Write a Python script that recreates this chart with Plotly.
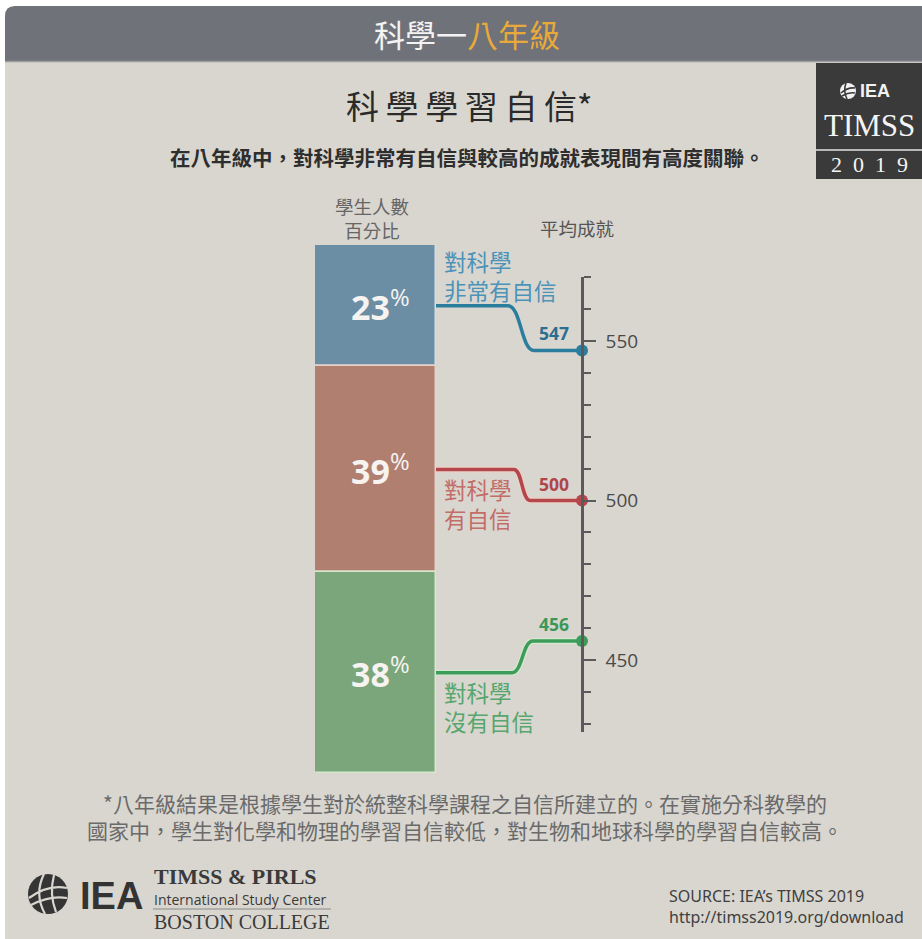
import plotly.graph_objects as go

W, H = 922, 939

# ---------------- data ----------------
categories = ["對科學非常有自信", "對科學有自信", "對科學沒有自信"]
label_lines = [["對科學", "非常有自信"], ["對科學", "有自信"], ["對科學", "沒有自信"]]
percent = [23, 39, 38]
score = [547, 500, 456]
score_ticks = [450, 500, 550]
score_tick_labels = ["450", "500", "550"]
minor_ticks = [430, 440, 460, 470, 480, 490, 510, 520, 530, 540, 560, 570]

# ---------------- styles ----------------
bar_colors = ["#6b8ea5", "#b07f70", "#7ba67b"]
bar_edge = ["#cfe0ea", "#ecd0c6", "#d3e8cd"]
line_colors = ["#2a7d9c", "#b4474c", "#3e9c5b"]
label_colors = ["#4b93b8", "#c26d68", "#56a66d"]
num_colors = ["#2b6e8e", "#b0454a", "#3c9857"]
BG = "#d9d6d0"
CJK = "Noto Sans CJK TC"

# layout geometry (pixels)
BAR_X0, BAR_X1 = 315, 436
BAR_TOP, BAR_BOT = 245, 773
AX_X = 582
AX_TOP, AX_BOT = 277, 732
SC_MIN, SC_MAX = 427.5, 570
bend_start = [508, 514, 512]
bend_end = [534, 530, 533]
label_dy = [-30, 34, 34]


def X(px):
    return px / W


def Y(py):
    return 1 - py / H


def bar_y_px(v):
    return BAR_BOT - (BAR_BOT - BAR_TOP) * v / 100.0


def score_y_px(s):
    return AX_BOT - (AX_BOT - AX_TOP) * (s - SC_MIN) / (SC_MAX - SC_MIN)


# stacked from top
bases = []
acc = 100
for p in percent:
    acc -= p
    bases.append(acc)

fig = go.Figure()

for i, (c, p, b) in enumerate(zip(categories, percent, bases)):
    fig.add_trace(go.Bar(
        x=["學生"], y=[p], base=[b], width=1, name=c,
        marker=dict(color=bar_colors[i], line=dict(color=bar_edge[i], width=1.5)),
        xaxis="x", yaxis="y", showlegend=False, hoverinfo="skip"))

fig.add_trace(go.Scatter(
    x=[0] * len(score), y=score, mode="markers", xaxis="x2", yaxis="y2",
    marker=dict(color=line_colors, size=12), cliponaxis=False,
    showlegend=False, hoverinfo="skip"))

shapes = []
# white frame + background
shapes.append(dict(type="rect", xref="paper", yref="paper", x0=0, x1=1, y0=0, y1=1,
                   fillcolor="white", line=dict(width=0), layer="below"))
shapes.append(dict(type="rect", xref="paper", yref="paper", x0=X(5), x1=1, y0=0, y1=Y(61),
                   fillcolor=BG, line=dict(width=0), layer="below"))
# banner with rounded top-left corner
r = 10
banner = (f"M {X(5)},{Y(61)} L {X(5)},{Y(6 + r)} Q {X(5)},{Y(6)} {X(5 + r)},{Y(6)} "
          f"L 1,{Y(6)} L 1,{Y(61)} Z")
shapes.append(dict(type="path", path=banner, xref="paper", yref="paper",
                   fillcolor="#6f7279", line=dict(width=0), layer="below"))
shapes.append(dict(type="line", xref="paper", yref="paper", x0=X(5), x1=1, y0=Y(61.5), y1=Y(61.5),
                   line=dict(color="#9a9ca0", width=1.5), layer="below"))

# TIMSS logo box
shapes.append(dict(type="rect", xref="paper", yref="paper", x0=X(816), x1=1, y0=Y(179), y1=Y(63),
                   fillcolor="#3b3a3a", line=dict(width=0), layer="below"))
shapes.append(dict(type="line", xref="paper", yref="paper", x0=X(816), x1=1, y0=Y(150), y1=Y(150),
                   line=dict(color="#b8b8b8", width=2), layer="below"))
# small white globe
gx, gy, gr = 848, 91, 8
shapes.append(dict(type="circle", xref="paper", yref="paper", x0=X(gx - gr), x1=X(gx + gr),
                   y0=Y(gy + gr), y1=Y(gy - gr), fillcolor="#f2f2f2", line=dict(width=0), layer="below"))
shapes.append(dict(type="path", xref="paper", yref="paper",
                   path=f"M {X(gx-7)},{Y(gy+2)} Q {X(gx)},{Y(gy-4)} {X(gx+7)},{Y(gy-3)} "
                        f"M {X(gx-6)},{Y(gy+5)} Q {X(gx+1)},{Y(gy+1)} {X(gx+7)},{Y(gy+2)} "
                        f"M {X(gx-2)},{Y(gy-8)} Q {X(gx-5)},{Y(gy)} {X(gx-1)},{Y(gy+8)}",
                   line=dict(color="#3b3a3a", width=1.6), layer="below"))

# bottom-left globe
bx, by, br = 48, 894, 20
shapes.append(dict(type="circle", xref="paper", yref="paper", x0=X(bx - br), x1=X(bx + br),
                   y0=Y(by + br), y1=Y(by - br), fillcolor="#353535", line=dict(width=0), layer="below"))
shapes.append(dict(type="path", xref="paper", yref="paper",
                   path=f"M {X(bx-19)},{Y(by+4)} Q {X(bx)},{Y(by-10)} {X(bx+19)},{Y(by-6)} "
                        f"M {X(bx-17)},{Y(by+11)} Q {X(bx+2)},{Y(by+1)} {X(bx+19)},{Y(by+4)} "
                        f"M {X(bx-4)},{Y(by-20)} Q {X(bx-14)},{Y(by)} {X(bx-3)},{Y(by+20)} "
                        f"M {X(bx+6)},{Y(by-19)} Q {X(bx+1)},{Y(by)} {X(bx+8)},{Y(by+18)}",
                   line=dict(color=BG, width=2.2), layer="below"))
shapes.append(dict(type="line", xref="paper", yref="paper", x0=X(153), x1=X(331), y0=Y(909), y1=Y(909),
                   line=dict(color="#8a8a8a", width=1.2), layer="below"))

# connectors (from segment middle on bar edge to the score on the axis)
for i, (p, b, s) in enumerate(zip(percent, bases, score)):
    y0 = bar_y_px(b + p / 2.0)
    y1 = score_y_px(s)
    xa, xb = bend_start[i], bend_end[i]
    xm = (xa + xb) / 2.0
    path = (f"M {X(BAR_X1)},{Y(y0)} L {X(xa)},{Y(y0)} "
            f"C {X(xm)},{Y(y0)} {X(xm)},{Y(y1)} {X(xb)},{Y(y1)} L {X(AX_X)},{Y(y1)}")
    if i > 0:
        shapes.append(dict(type="path", path=path, xref="paper", yref="paper",
                           line=dict(color=bar_edge[i], width=6), layer="below"))
    shapes.append(dict(type="path", path=path, xref="paper", yref="paper",
                       line=dict(color=line_colors[i], width=3.5), layer="below"))

ann = []


def text(x, y, t, size, color, family=CJK, xanchor="center", **kw):
    ann.append(dict(x=X(x), y=Y(y), xref="paper", yref="paper", text=t, showarrow=False,
                    xanchor=xanchor, yanchor="middle",
                    font=dict(size=size, color=color, family=family), **kw))


# banner title
text(467, 33, "科學一<span style='color:#e8a93a'>八年級</span>", 31, "#f3f3f3")
# chart title and subtitle
text(469, 105, "科\u2009學\u2009學\u2009習\u2009自\u2009信*", 33, "#2a2a2a")
text(467, 157, "<b>在八年級中，對科學非常有自信與較高的成就表現間有高度關聯。</b>", 20.5, "#2e2e2e")
# TIMSS logo texts
text(858, 91, "<b>IEA</b>", 18, "#f2f2f2", family="Liberation Sans", xanchor="left")
text(869, 126, "TIMSS", 31, "#f5f5f5", family="Liberation Serif")
text(869, 164, "2\u20020\u20021\u20029", 22, "#f5f5f5", family="Liberation Serif")

# column headers
text(372, 218, "學生人數<br>百分比", 18.5, "#666666")
text(577, 228, "平均成就", 18.5, "#555555")

# percentage labels inside bar (data coords)
for i, (p, b) in enumerate(zip(percent, bases)):
    ann.append(dict(x=0, y=b + p / 2.0, xref="x", yref="y", showarrow=False,
                    text=f"<b>{p}</b><sup>%</sup>", xanchor="center", yanchor="middle", xshift=5,
                    font=dict(size=34, color="#f6f3f0", family="Open Sans")))

# series labels and values
for i, (p, b, s) in enumerate(zip(percent, bases, score)):
    y0 = bar_y_px(b + p / 2.0)
    text(442, y0 + label_dy[i], "<br>".join(label_lines[i]), 22.5, label_colors[i],
         xanchor="left", align="left")
    text(554, score_y_px(s) - 17, f"<b>{s}</b>", 17.5, num_colors[i], family="Open Sans")

# footnote
text(465, 816, "*八年級結果是根據學生對於統整科學課程之自信所建立的。在實施分科教學的<br>"
               "國家中，學生對化學和物理的學習自信較低，對生物和地球科學的學習自信較高。",
     21, "#6a6a6a")

# bottom logos
text(78, 896, "<b>IEA</b>", 38, "#333333", family="Liberation Sans", xanchor="left")
text(152, 876, "<b>TIMSS &amp; PIRLS</b>", 22, "#3a3a3a", family="Liberation Serif", xanchor="left")
text(152, 899.5, "International Study Center", 14, "#3a3a3a", family="Open Sans", xanchor="left")
text(152, 922, "BOSTON COLLEGE", 20, "#3a3a3a", family="Liberation Serif", xanchor="left")
text(667, 906, "SOURCE: IEA’s TIMSS 2019<br>http://timss2019.org/download", 16, "#404040",
     family="Noto Sans", xanchor="left", align="left")

fig.update_layout(
    width=W, height=H,
    margin=dict(l=0, r=0, t=0, b=0),
    paper_bgcolor="white", plot_bgcolor="rgba(0,0,0,0)",
    barmode="overlay", bargap=0,
    shapes=shapes, annotations=ann,
    xaxis=dict(domain=[X(BAR_X0), X(BAR_X1)], range=[-0.5, 0.5], visible=False, fixedrange=True),
    yaxis=dict(domain=[Y(BAR_BOT), Y(BAR_TOP)], range=[0, 100], visible=False, fixedrange=True),
    xaxis2=dict(domain=[X(AX_X - 5), X(AX_X + 5)], range=[-1, 1], visible=False, anchor="y2"),
    yaxis2=dict(domain=[Y(AX_BOT), Y(AX_TOP)], range=[SC_MIN, SC_MAX], anchor="free",
                position=X(AX_X), side="right", showline=True, linecolor="#5a5a5a", linewidth=2.5,
                showgrid=False, zeroline=False, ticks="outside", tickmode="array",
                tickvals=score_ticks, ticktext=score_tick_labels, ticklen=12, tickwidth=2,
                tickcolor="#5a5a5a", ticklabelstandoff=6,
                tickfont=dict(size=19, color="#4a4a4a", family="Open Sans"),
                minor=dict(tickmode="array", tickvals=minor_ticks, ticks="outside", ticklen=7,
                           tickwidth=2, tickcolor="#5a5a5a", showgrid=False)),
    showlegend=False,
)

fig.write_html("out.html", config={"displayModeBar": False},
               post_script="document.body.style.margin='0';document.body.style.overflow='hidden';")
